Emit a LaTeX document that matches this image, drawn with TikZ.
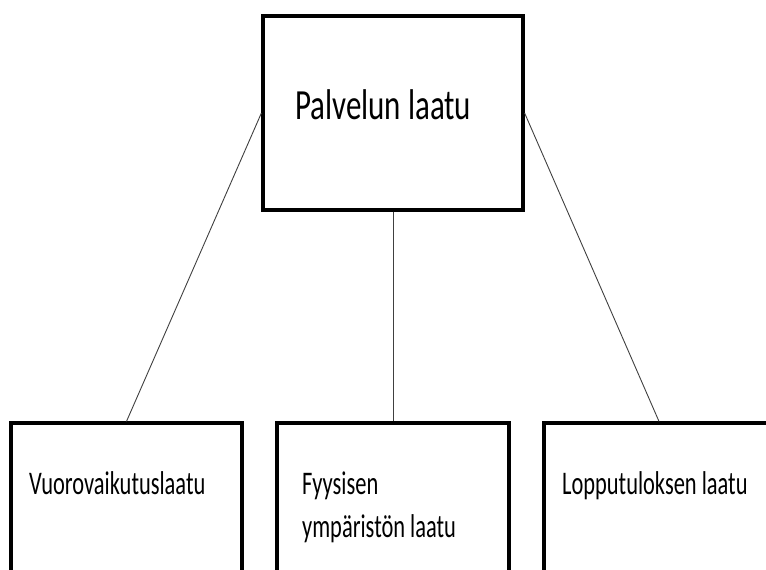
\documentclass[tikz,border=0pt]{standalone}
\usepackage{fontspec}
\setmainfont{Carlito}
\usetikzlibrary{positioning}

\begin{document}
\begin{tikzpicture}[
    x=1pt, y=-1pt,
    box/.style={rectangle, draw=black, line width=3.2pt, inner sep=0pt},
    link/.style={black!75, line width=0.9pt},
    toptxt/.style={font=\fontsize{43}{48}\selectfont, anchor=base west, inner sep=0pt, xscale=0.72, transform shape},
    subtxt/.style={font=\fontsize{33}{42}\selectfont, anchor=base west, inner sep=0pt, xscale=0.68, transform shape},
]
    \useasboundingbox (0,0) rectangle (766,570);
    \clip (0,0) rectangle (766,570);

    % Main box
    \node[box, minimum width=260pt, minimum height=194pt] (laatu) at (393,113) {};
    \node[toptxt] (laatutxt) at (295,119) {Palvelun laatu};

    % Sub boxes (cut off at the bottom edge)
    \node[box, minimum width=231pt, minimum height=194pt] (vuoro) at (126.5,520) {};
    \node[box, minimum width=232pt, minimum height=194pt] (fyys) at (393,520) {};
    \node[box, minimum width=230pt, minimum height=194pt] (loppu) at (659,520) {};

    \node[subtxt] (vuorotxt) at (29,494) {Vuorovaikutuslaatu};
    \node[subtxt] (fyystxt1) at (302,494) {Fyysisen};
    \node[subtxt] (fyystxt2) at (302,537) {ympäristön laatu};
    \node[subtxt] (lopputxt) at (562,494) {Lopputuloksen laatu};

    % Links
    \draw[link] (laatu.west) -- (vuoro.north);
    \draw[link] (laatu.south) -- (fyys.north);
    \draw[link] (laatu.east) -- (loppu.north);
\end{tikzpicture}
\end{document}
